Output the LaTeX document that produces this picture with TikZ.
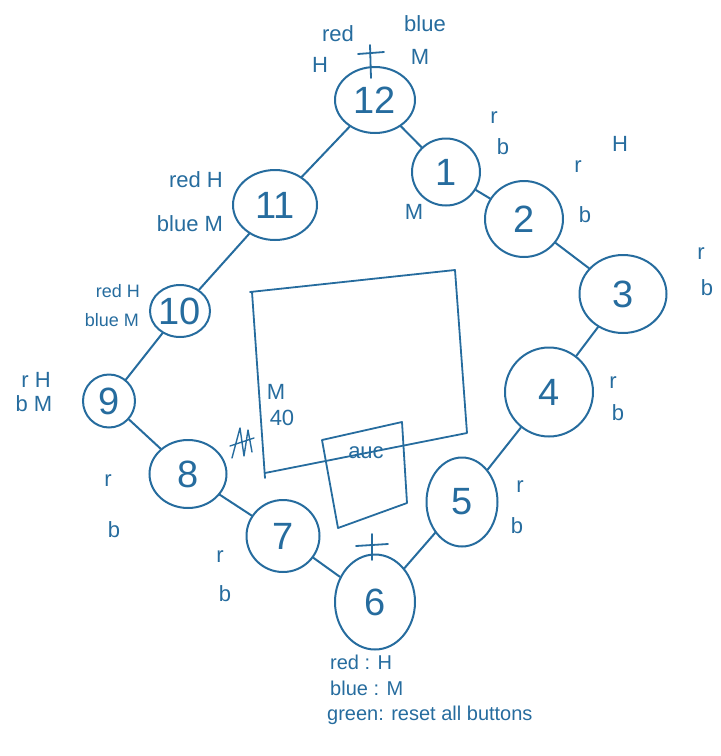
\documentclass[tikz,border=0pt]{standalone}
\usepackage{fontspec}
\setmainfont{Liberation Sans}
\usetikzlibrary{shapes.geometric}
\definecolor{ink}{RGB}{38,108,158}
\begin{document}
\begin{tikzpicture}[x=1pt,y=-1pt,
  num/.style={draw=ink, ellipse, line width=2pt, inner sep=0pt, text=ink, font=\fontsize{38}{40}\selectfont},
  lbl/.style={inner sep=0pt, text=ink, font=\fontsize{22}{24}\selectfont},
  small/.style={inner sep=0pt, text=ink, font=\fontsize{18}{20}\selectfont},
  legend/.style={inner sep=0pt, text=ink, anchor=west, font=\fontsize{20}{22}\selectfont},
  wire/.style={draw=ink, line width=2pt, line cap=round},
  pen/.style={draw=ink, line width=1.8pt, line cap=round, line join=round}]
\useasboundingbox (0,0) rectangle (721,756);

% ring of buttons
\node[num, minimum width=80pt, minimum height=66pt] (n12) at (375,100) {12};
\node[num, minimum width=68pt, minimum height=67pt] (n1) at (446,172) {1};
\node[num, minimum width=78pt, minimum height=76pt] (n2) at (524,219) {2};
\node[num, minimum width=87pt, minimum height=78pt] (n3) at (623,294) {3};
\node[num, minimum width=88pt, minimum height=89pt] (n4) at (549,392) {4};
\node[num, minimum width=71pt, minimum height=89pt] (n5) at (462,502) {5};
\node[num, minimum width=80pt, minimum height=95pt] (n6) at (375,602) {6};
\node[num, minimum width=73pt, minimum height=72pt] (n7) at (283,536) {7};
\node[num, minimum width=77pt, minimum height=68pt] (n8) at (188,474) {8};
\node[num, minimum width=52pt, minimum height=53pt] (n9) at (109,401) {9};
\node[num, minimum width=60pt, minimum height=52pt] (n10) at (180,311) {10};
\node[num, minimum width=84pt, minimum height=70pt] (n11) at (275,205) {11};

\draw[wire] (n12) -- (n1);
\draw[wire] (n1) -- (n2);
\draw[wire] (n2) -- (n3);
\draw[wire] (n3) -- (n4);
\draw[wire] (n4) -- (n5);
\draw[wire] (n5) -- (n6);
\draw[wire] (n6) -- (n7);
\draw[wire] (n7) -- (n8);
\draw[wire] (n8) -- (n9);
\draw[wire] (n9) -- (n10);
\draw[wire] (n10) -- (n11);
\draw[wire] (n11) -- (n12);

% crosses
\draw[pen] (370,45) -- (371,78) (358,54) -- (384,52);
\draw[pen] (372,534) -- (372,560) (356,546) -- (388,544);

% central rectangles
\draw[pen] (250,292) -- (455,270) -- (467,433) -- (265,473);
\draw[pen] (252,292) -- (265,478);
\draw[pen] (322,440) -- (402,422) -- (407,503) -- (338,528) -- cycle;
\node[lbl] (auc) at (366,453) {auc};
\node[lbl] (m40a) at (276,392) {M};
\node[lbl] (m40b) at (282,418) {40};
\draw[pen, line width=1.4pt] (232,458) -- (240,428) -- (244,456) -- (248,430) -- (252,452) (230,446) -- (254,438);

% labels around the ring
\node[lbl] (t12r) at (338,34) {red};
\node[lbl] (t12b) at (425,24) {blue};
\node[lbl] (t12h) at (320,65) {H};
\node[lbl] (t12m) at (420,57) {M};

\node[lbl] (t1r) at (494,118) {r};
\node[lbl] (t1b) at (503,147) {b};
\node[lbl] (t1m) at (414,212) {M};

\node[lbl] (t2r) at (578,167) {r};
\node[lbl] (t2h) at (620,144) {H};
\node[lbl] (t2b) at (585,215) {b};

\node[lbl] (t3r) at (701,254) {r};
\node[lbl] (t3b) at (707,288) {b};

\node[lbl] (t4r) at (613,383) {r};
\node[lbl] (t4b) at (618,413) {b};

\node[lbl] (t5r) at (520,487) {r};
\node[lbl] (t5b) at (517,526) {b};

\node[lbl] (t7r) at (220,557) {r};
\node[lbl] (t7b) at (225,594) {b};

\node[lbl] (t8r) at (108,481) {r};
\node[lbl] (t8b) at (114,530) {b};

\node[lbl] (t9a) at (36,380) {r H};
\node[lbl] (t9b) at (34,404) {b M};

\node[small] (t10a) at (118,291) {red H};
\node[small] (t10b) at (112,320) {blue M};

\node[lbl] (t11a) at (196,180) {red H};
\node[lbl] (t11b) at (190,224) {blue M};

% legend
\node[legend] (leg1) at (330,662) {red : H};
\node[legend] (leg2) at (330,688) {blue : M};
\node[legend] (leg3) at (327,715) {green: reset all buttons};
\end{tikzpicture}
\end{document}
